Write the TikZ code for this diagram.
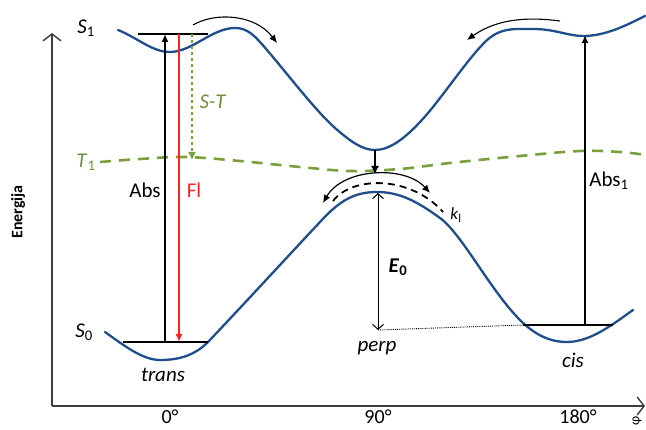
\documentclass[tikz,border=0pt]{standalone}
\usepackage{fontspec}
\setmainfont{Carlito}
\usetikzlibrary{arrows.meta}
\definecolor{curveblue}{HTML}{1F4E8C}
\definecolor{tripletgreen}{HTML}{7AA03C}
\definecolor{labelgreen}{HTML}{6E8F3E}
\definecolor{flred}{HTML}{FF2222}
\definecolor{axisgray}{HTML}{3C3C3C}

\begin{document}
\begin{tikzpicture}[x=1pt, y=-1pt,
  font=\fontsize{21}{24}\selectfont,
  surface/.style={draw=curveblue, line width=2.3pt, line cap=round},
  triplet/.style={draw=tripletgreen, line width=2.6pt, dash pattern=on 11pt off 8pt},
  floorline/.style={draw=black, line width=1.3pt},
  axis/.style={draw=axisgray, line width=1.4pt, -{Straight Barb[length=7pt,width=18pt]}},
  transition/.style={line width=1.8pt, -{Latex[length=8pt,width=7pt]}},
  twist/.style={line width=1.1pt, -{Latex[length=8pt,width=7pt]}},
  tag/.style={inner sep=1pt}
]
\useasboundingbox (0,0) rectangle (646,430);

% axes
\coordinate (origin) at (52,406);
\coordinate (ytop) at (52,33);
\coordinate (xend) at (645,406);
\draw[axis] (origin) -- (ytop);
\draw[axis] (origin) -- (xend);
\node[tag, rotate=90, font=\bfseries\fontsize{16}{19}\selectfont] (energy) at (18,212) {Energija};
\node[tag, font=\fontsize{20}{23}\selectfont] (deg0) at (170,417) {0°};
\node[tag, font=\fontsize{20}{23}\selectfont] (deg90) at (378,417) {90°};
\node[tag, font=\fontsize{20}{23}\selectfont] (deg180) at (578,417) {180°};
\node[tag, rotate=90, font=\fontsize{14}{16}\selectfont] (phi) at (637,421) {φ};

% potential curves
\draw[surface] (118,30) .. controls (138,38) and (152,52) .. (170,52)
  .. controls (192,52) and (212,28) .. (235,28)
  .. controls (248,28) and (255,36) .. (267,50)
  .. controls (290,77) and (315,110) .. (335,128)
  .. controls (350,141) and (362,150) .. (375,150)
  .. controls (390,150) and (405,138) .. (420,122)
  .. controls (440,101) and (465,62) .. (485,42)
  .. controls (500,27) and (515,29) .. (533,29)
  .. controls (555,29) and (568,36) .. (583,36)
  .. controls (605,36) and (625,26) .. (645,16);
\draw[surface] (105,332) .. controls (122,344) and (142,360) .. (160,360)
  .. controls (178,360) and (194,356) .. (208,342)
  .. controls (245,303) and (290,254) .. (320,222)
  .. controls (340,200) and (355,192) .. (377,192)
  .. controls (400,192) and (418,202) .. (440,218)
  .. controls (462,234) and (490,290) .. (520,320)
  .. controls (535,335) and (550,342) .. (567,342)
  .. controls (590,342) and (612,325) .. (633,310);
\draw[triplet] plot[smooth, tension=0.6] coordinates {
  (100,162) (140,159) (185,157) (240,161) (300,167) (350,171) (400,169)
  (450,163) (520,156) (580,151) (620,152) (646,155)};

% levels
\coordinate (s1L) at (138,34);
\coordinate (s1R) at (208,34);
\coordinate (trL) at (123,342);
\coordinate (trR) at (208,342);
\coordinate (cisL) at (523,325);
\coordinate (cisR) at (613,325);
\coordinate (perpB) at (378,330);
\coordinate (perpT) at (378,193);
\coordinate (s1min) at (375,150);
\coordinate (t1hit) at (375,174);
\draw[floorline] (s1L) -- (s1R);
\draw[floorline] (trL) -- (trR);
\draw[floorline] (cisL) -- (cisR);
\draw[densely dotted, line width=0.9pt] (perpB) -- (cisL);

% transitions
\draw[transition] (trL -| 165,0) -- (s1L -| 165,0);
\draw[transition, draw=flred, -{Latex[length=8pt,width=7pt,fill=flred]}] (s1L -| 179,0) -- (trL -| 179,0);
\draw[transition, line width=1.5pt, draw=tripletgreen, dashed, -{Latex[length=8pt,width=8pt,fill=tripletgreen]}] (s1L -| 192,0) -- (192,160);
\draw[transition] (cisL -| 585,0) -- (585,35);
\draw[line width=1.3pt, -{Latex[length=8pt,width=8pt]}] (s1min) -- (t1hit);
\draw[line width=1pt, {Straight Barb[length=5pt,width=11pt]}-{Straight Barb[length=5pt,width=11pt]}] (perpT) -- (perpB);

% twisting arrows
\draw[twist] (193,25) .. controls (215,12) and (255,14) .. (277,43);
\draw[twist] (560,21) .. controls (530,17) and (498,18) .. (467,40);
\draw[line width=1.2pt, {Latex[length=8pt,width=7pt]}-{Latex[length=8pt,width=7pt]}]
  (323,203) .. controls (343,168) and (405,165) .. (430,193);
\draw[line width=1.8pt, dash pattern=on 7pt off 5pt] (333,201) .. controls (352,176) and (410,175) .. (443,212);

% labels
\node[tag] (s1lab) at (86,28) {\textit{S}\textsubscript{1}};
\node[tag] (s0lab) at (84,332) {\textit{S}\textsubscript{0}};
\node[tag, text=labelgreen] (t1lab) at (86,162) {\textit{T}\textsubscript{1}};
\node[tag, text=labelgreen] (stlab) at (213,102) {\textit{S-T}};
\node[tag] (abslab) at (145,190) {Abs};
\node[tag, text=flred] (fllab) at (194,190) {Fl};
\node[tag] (abs1lab) at (609,181) {Abs\textsubscript{1}};
\node[tag] (translab) at (163,375) {\textit{trans}};
\node[tag] (perplab) at (377,348) {\textit{perp}};
\node[tag] (cislab) at (573,360) {\textit{cis}};
\node[tag] (e0lab) at (398,267) {\textbf{\textit{E}}\textsubscript{\textbf{0}}};
\node[tag, font=\fontsize{17}{20}\selectfont] (kllab) at (456,215) {\textit{k}\textsubscript{l}};
\end{tikzpicture}
\end{document}
